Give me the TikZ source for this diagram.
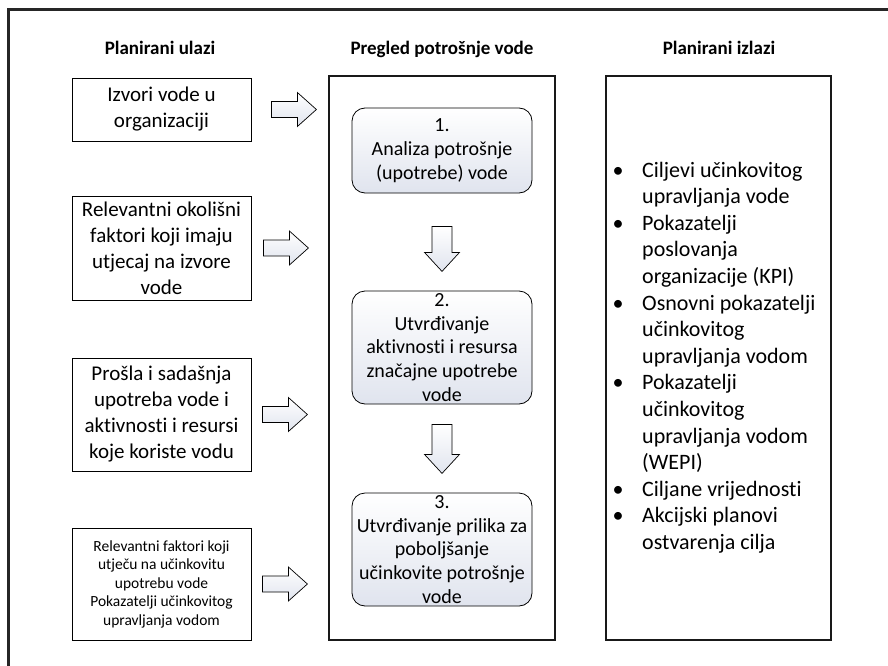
\documentclass[tikz,border=0pt]{standalone}
\usepackage{fontspec}
\setmainfont[Ligatures=NoCommon]{Carlito}
\usetikzlibrary{calc}
\definecolor{shadeend}{RGB}{224,228,238}
\newcommand{\bul}{\makebox[36pt][l]{\makebox[24pt]{\textbullet}}}
\newcommand{\rightblock}[1]{\draw[blockarrow] (#1) ++(0,-8) -- ++(26,0) -- ++(0,-9) -- ++(19,17) -- ++(-19,17) -- ++(0,-9) -- ++(-26,0) -- cycle;}
\newcommand{\downblock}[2]{\draw[blockarrow] (#1) ++(-10,0) -- ++(20,0) -- ++(0,#2) -- ++(7.5,0) -- ++(-17.5,19) -- ++(-17.5,-19) -- ++(7.5,0) -- cycle;}
\begin{document}
\begin{tikzpicture}[x=1pt,y=-1pt,
  inbox/.style={draw=black, line width=0.8pt, fill=white, minimum width=179pt, align=center, inner sep=2pt, font=\fontsize{21}{26}\selectfont},
  colbox/.style={draw=black!90, line width=2.6pt, minimum width=226pt, minimum height=564pt},
  stepbox/.style={draw=black, line width=0.8pt, rounded corners=13pt, minimum width=180pt, align=center, inner sep=1pt, top color=white, bottom color=shadeend, font=\fontsize{20}{23.75}\selectfont},
  head/.style={anchor=base, font=\bfseries\fontsize{19}{23}\selectfont},
  blockarrow/.style={draw=black, line width=0.7pt, top color=white, bottom color=shadeend}]
\useasboundingbox (0,0) rectangle (888,666);
\fill[white] (0,0) rectangle (888,666);
% outer frame (only top and left visible)
\draw[line width=3pt, black!85] (8.5,670) -- (8.5,9.5) -- (892,9.5);
% headers
\node[head] (h1) at (160,55) {Planirani ulazi};
\node[head] (h2) at (442,55) {Pregled potrošnje vode};
\node[head] (h3) at (719,55) {Planirani izlazi};
% input boxes
\node[inbox, minimum height=63pt] (in1) at (161.5,109.5) {Izvori vode u\\organizaciji};
\node[inbox, minimum height=104pt] (in2) at (161.5,248) {Relevantni okolišni\\faktori koji imaju\\utjecaj na izvore\\vode};
\node[inbox, minimum height=113pt] (in3) at (161.5,414.5) {Prošla i sadašnja\\upotreba vode i\\aktivnosti i resursi\\koje koriste vodu};
\node[inbox, minimum height=112pt, font=\fontsize{15.5}{18.5}\selectfont] (in4) at (161.5,584) {Relevantni faktori koji\\utječu na učinkovitu\\upotrebu vode\\Pokazatelji učinkovitog\\upravljanja vodom};
% column frames
\node[colbox] (mid) at (442,358) {};
\node[colbox, minimum width=225pt] (out) at (718.5,358) {};
% steps
\node[stepbox, minimum height=85pt] (s1) at (442,150.5) {1.\\Analiza potrošnje\\(upotrebe) vode};
\node[stepbox, minimum height=113pt] (s2) at (442,347.5) {2.\\Utvrđivanje\\aktivnosti i resursa\\značajne upotrebe\\vode};
\node[stepbox, minimum height=113pt] (s3) at (442,549.5) {3.\\Utvrđivanje prilika za\\poboljšanje\\učinkovite potrošnje\\vode};
% arrows
\rightblock{$(in1.east)+(20,0)$}
\rightblock{$(in2.east)+(12,0)$}
\rightblock{$(in3.east)+(11,0)$}
\rightblock{$(in4.east)+(11,0)$}
\downblock{$(s1.south)+(0,33)$}{26}
\downblock{$(s2.south)+(0,20)$}{30}
% output list
\node[anchor=west, inner sep=0pt, align=left, font=\fontsize{22}{26.6}\selectfont] (list) at (606,358) {%
\begin{tabular}{@{}l@{}l@{}}
\bul & Ciljevi učinkovitog\\
 & upravljanja vode\\
\bul & Pokazatelji\\
 & poslovanja\\
 & organizacije (KPI)\\
\bul & Osnovni pokazatelji\\
 & učinkovitog\\
 & upravljanja vodom\\
\bul & Pokazatelji\\
 & učinkovitog\\
 & upravljanja vodom\\
 & (WEPI)\\
\bul & Ciljane vrijednosti\\
\bul & Akcijski planovi\\
 & ostvarenja cilja
\end{tabular}};
\end{tikzpicture}
\end{document}
